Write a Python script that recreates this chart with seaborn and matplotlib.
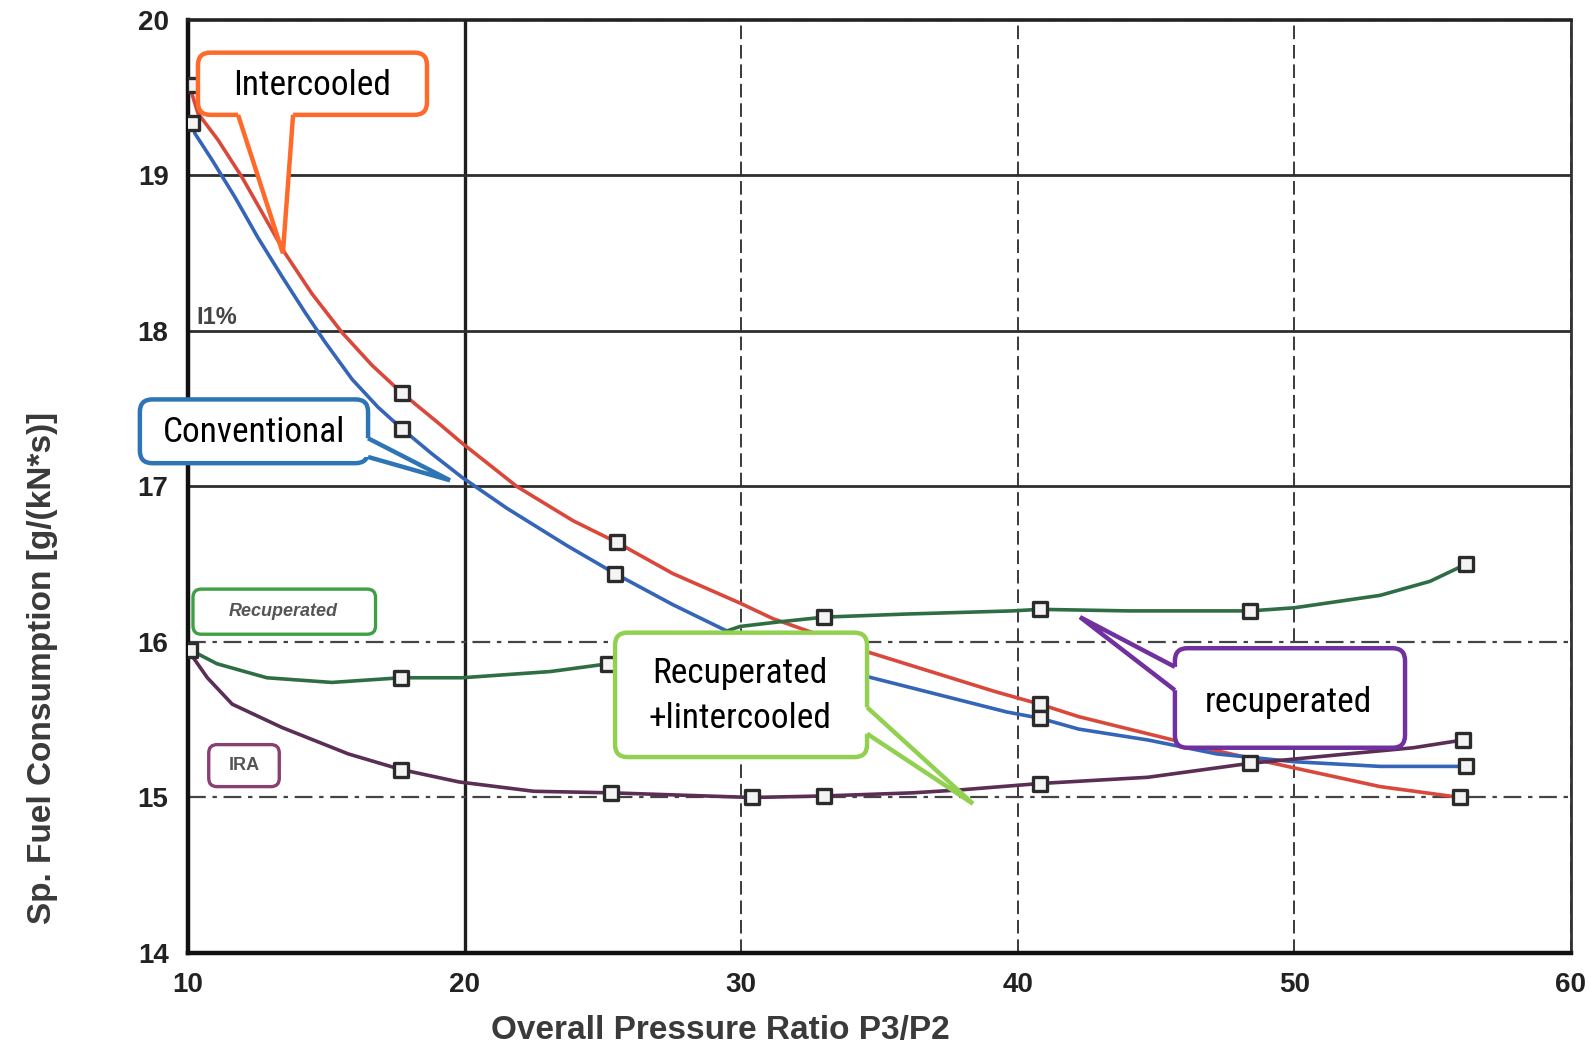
import numpy as np
import pandas as pd
import matplotlib
matplotlib.use("Agg")
import matplotlib.pyplot as plt
from matplotlib import font_manager
from matplotlib.patches import FancyBboxPatch, Polygon
import seaborn as sns

# curve readings (overall pressure ratio vs sfc)
ic_x = [10.1, 10.36, 11.08, 11.95, 12.78, 13.51, 14.48, 15.57, 16.65, 17.74, 19.04, 19.9, 21.89, 23.92,
        25.51, 27.53, 29.96, 31.15, 34.5, 39.2, 40.8, 42.2, 44.7, 47.2, 50.0, 53.1, 56.0]
ic_y = [19.55, 19.40, 19.23, 18.99, 18.73, 18.50, 18.24, 17.99, 17.78, 17.60, 17.41, 17.28, 17.00, 16.78,
        16.64, 16.44, 16.25, 16.15, 15.94, 15.68, 15.60, 15.52, 15.41, 15.30, 15.19, 15.07, 15.00]

cv_x = [10.15, 10.25, 10.87, 11.70, 12.53, 13.40, 14.23, 14.95, 15.93, 16.87, 17.74, 18.82, 19.9, 21.53,
        23.7, 25.44, 27.53, 29.49, 34.5, 39.6, 40.8, 42.2, 44.7, 47.2, 50.0, 53.1, 56.2]
cv_y = [19.34, 19.27, 19.10, 18.86, 18.60, 18.35, 18.12, 17.93, 17.69, 17.51, 17.37, 17.21, 17.06, 16.86,
        16.62, 16.44, 16.24, 16.07, 15.78, 15.55, 15.51, 15.44, 15.37, 15.28, 15.23, 15.20, 15.20]

rc_x = [10.07, 11.05, 12.85, 15.2, 17.7, 19.9, 23.1, 25.2, 27.5, 29.96, 31.4, 33.0, 36.0, 39.8, 40.8,
        44.0, 48.4, 50.0, 53.1, 54.9, 56.2]
rc_y = [15.95, 15.86, 15.77, 15.74, 15.77, 15.77, 15.81, 15.86, 15.95, 16.10, 16.13, 16.16, 16.18, 16.20,
        16.21, 16.20, 16.20, 16.22, 16.30, 16.39, 16.50]

ira_x = [10.07, 10.7, 11.6, 13.4, 15.8, 17.7, 19.8, 22.5, 25.3, 30.4, 33.0, 36.2, 38.0, 40.8, 44.7,
         48.4, 51.9, 54.3, 56.1]
ira_y = [15.93, 15.77, 15.60, 15.45, 15.28, 15.18, 15.10, 15.04, 15.03, 15.00, 15.01, 15.03, 15.05, 15.09,
         15.13, 15.22, 15.28, 15.32, 15.37]

# square markers
mk_x = [10.2, 17.74, 25.51, 40.8, 56.0,
        10.15, 17.74, 25.44, 40.8, 56.2,
        10.07, 17.7, 25.2, 33.0, 40.8, 48.4, 56.2,
        17.7, 25.3, 30.4, 33.0, 40.8, 48.4, 56.1]
mk_y = [19.58, 17.60, 16.64, 15.60, 15.00,
        19.34, 17.37, 16.44, 15.51, 15.20,
        15.95, 15.77, 15.86, 16.16, 16.21, 16.20, 16.50,
        15.18, 15.03, 15.00, 15.01, 15.09, 15.22, 15.37]

series_names = ["Intercooled", "Conventional", "Recuperated", "IRA"]
series_colors = ["#D9483B", "#3465B8", "#2F6E45", "#5A2E55"]
x_ticks = [10, 20, 30, 40, 50, 60]
y_ticks = [14, 15, 16, 17, 18, 19, 20]

rows = []
for name, xs, ys in zip(series_names, [ic_x, cv_x, rc_x, ira_x], [ic_y, cv_y, rc_y, ira_y]):
    for i, (a, b) in enumerate(zip(xs, ys)):
        rows.append({"series": name, "order": i, "pr": a, "sfc": b})
df = pd.DataFrame(rows)
mk = pd.DataFrame({"pr": mk_x, "sfc": mk_y})

sns.set_theme(style="white")
plt.rcParams["font.family"] = ["Liberation Sans", "DejaVu Sans"]

# callout font: a narrow face if one is installed
installed = {f.name for f in font_manager.fontManager.ttflist}
NARROW, CALLOUT_FS = ["Liberation Sans", "DejaVu Sans"], 23
for cand in ["Liberation Sans Narrow", "Arial Narrow", "Roboto Condensed", "Open Sans Condensed"]:
    if cand in installed:
        NARROW, CALLOUT_FS = [cand, "DejaVu Sans"], 25.5
        break

W, H = 1589, 1051
fig = plt.figure(figsize=(W / 100, H / 100), dpi=100)
ax = fig.add_axes([188 / W, 1 - 953 / H, (1571 - 188) / W, (953 - 20) / H])

sns.lineplot(data=df, x="pr", y="sfc", hue="series", units="series", palette=series_colors,
             hue_order=series_names, sort=False, estimator=None, lw=2.6, legend=False, ax=ax, zorder=3)
sns.scatterplot(data=mk, x="pr", y="sfc", marker="s", s=95, color="#f4f4f4", edgecolor="#2b2b2b",
                linewidth=2.4, ax=ax, zorder=4)

ax.set_xlim(10, 60)
ax.set_ylim(14, 20)
ax.set_xticks(x_ticks)
ax.set_yticks(y_ticks)
ax.set_xticklabels([str(v) for v in x_ticks], fontsize=20, fontweight="bold", color="#222222")
ax.set_yticklabels([str(v) for v in y_ticks], fontsize=20, fontweight="bold", color="#222222")
ax.tick_params(axis="both", direction="out", length=10, width=2, color="#111111", pad=4)

ax.set_axisbelow(True)
ax.grid(True, color="#333333", lw=1.5)
for v, gl in zip(x_ticks, ax.get_xgridlines()):
    if v == 20:
        gl.set_linestyle("-"); gl.set_linewidth(2.4); gl.set_color("#1e1e1e")
    else:
        gl.set_linestyle((0, (7, 3))); gl.set_linewidth(1.4); gl.set_color("#3a3a3a")
for v, gl in zip(y_ticks, ax.get_ygridlines()):
    if v in (17, 18, 19):
        gl.set_linestyle("-"); gl.set_linewidth(2.0); gl.set_color("#2e2e2e")
    else:
        gl.set_linestyle((0, (8, 3, 2, 3))); gl.set_linewidth(1.6); gl.set_color("#444444")

for side, lw, col in [("left", 3.2, "#111111"), ("bottom", 3.2, "#111111"),
                      ("top", 2.6, "#222222"), ("right", 2.0, "#333333")]:
    ax.spines[side].set_visible(True)
    ax.spines[side].set_linewidth(lw)
    ax.spines[side].set_color(col)

ax.set_xlabel("Overall Pressure Ratio P3/P2", fontsize=24, fontweight="bold", color="#3a3a3a")
ax.set_ylabel("Sp. Fuel Consumption [g/(kN*s)]", fontsize=24, fontweight="bold", color="#3a3a3a")
ax.xaxis.set_label_coords(0.385, -0.066)
ax.yaxis.set_label_coords(-0.094, 0.305)

# original printed labels
ASPECT = 27.66 / 155.5
ax.add_patch(FancyBboxPatch((10.18, 16.05), 6.6, 0.29, boxstyle="round,pad=0,rounding_size=0.3",
                            mutation_aspect=ASPECT, fc="white", ec="#3F9F45", lw=2.4, zorder=5))
ax.text(13.45, 16.195, "Recuperated", fontsize=13, fontweight="bold", fontstyle="italic",
        color="#555555", ha="center", va="center", zorder=6)
ax.add_patch(FancyBboxPatch((10.75, 15.07), 2.55, 0.27, boxstyle="round,pad=0,rounding_size=0.3",
                            mutation_aspect=ASPECT, fc="white", ec="#8A3F72", lw=2.4, zorder=5))
ax.text(12.02, 15.205, "IRA", fontsize=13, fontweight="bold", color="#555555",
        ha="center", va="center", zorder=6)
ax.text(10.3, 18.09, "I1%", fontsize=17, fontweight="bold", color="#444444",
        ha="left", va="center", zorder=6)


def callout(box, base1, base2, tip, inset, color, lines):
    x0, y0, x1, y1 = box
    ax.add_patch(FancyBboxPatch((x0, y0), x1 - x0, y1 - y0,
                                boxstyle="round,pad=0,rounding_size=0.45",
                                mutation_aspect=ASPECT, fc="white", ec=color, lw=3.2,
                                zorder=7, clip_on=False))
    b1i = (base1[0] + inset[0], base1[1] + inset[1])
    b2i = (base2[0] + inset[0], base2[1] + inset[1])
    ax.add_patch(Polygon([b1i, base1, tip, base2, b2i], closed=True, fc="white", ec="none",
                         zorder=8, clip_on=False))
    ax.plot([base1[0], tip[0], base2[0]], [base1[1], tip[1], base2[1]], color=color, lw=3.2,
            zorder=9, clip_on=False, solid_joinstyle="miter", solid_capstyle="butt")
    for (tx, ty, s) in lines:
        ax.text(tx, ty, s, fontsize=CALLOUT_FS, family=NARROW, color="black", ha="center",
                va="center", zorder=10, clip_on=False)


callout((10.36, 19.39, 18.64, 19.79), (11.81, 19.39), (13.80, 19.39), (13.43, 18.50),
        (0, 0.04), "#FF6A2A", [(14.48, 19.58, "Intercooled")])
callout((8.26, 17.15, 16.51, 17.56), (16.51, 17.31), (16.51, 17.19), (19.47, 17.04),
        (-0.25, 0), "#2E75B6", [(12.39, 17.35, "Conventional")])
callout((25.44, 15.26, 34.55, 16.06), (34.55, 15.58), (34.55, 15.41), (38.38, 14.96),
        (-0.25, 0), "#92D050", [(29.95, 15.80, "Recuperated"), (29.95, 15.51, "+lintercooled")])
callout((45.68, 15.32, 54.0, 15.96), (45.68, 15.84), (45.68, 15.69), (42.25, 16.16),
        (0.25, 0), "#7030A0", [(49.8, 15.61, "recuperated")])

fig.savefig("out.png", dpi=100, facecolor="white")
